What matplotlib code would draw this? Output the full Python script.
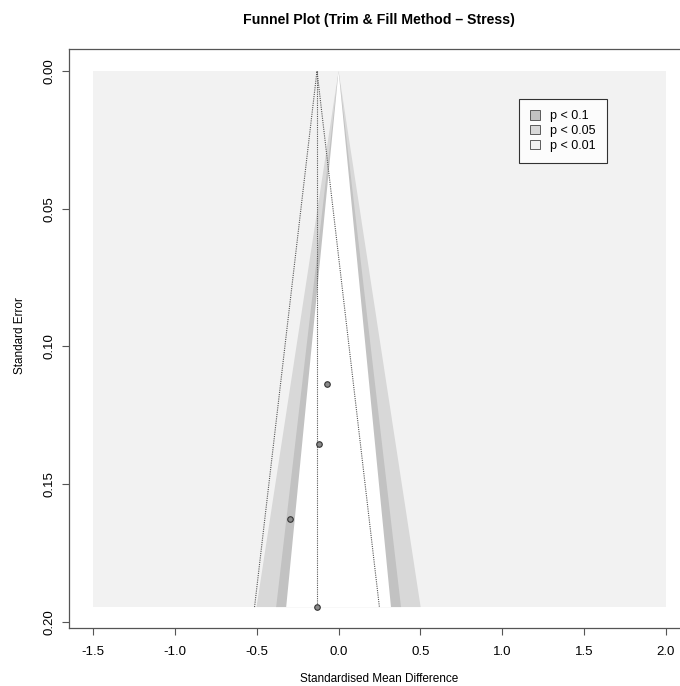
import numpy as np
import matplotlib
matplotlib.use('Agg')
from matplotlib import pyplot
from matplotlib.patches import Patch

pyplot.rcParams['font.family'] = ['Liberation Sans', 'DejaVu Sans']

# study effects (standardised mean difference) and standard errors
yi = [-0.071, -0.118, -0.295, -0.132]
sei = [0.1136, 0.1355, 0.1627, 0.1946]
# trim & fill pooled estimate
estimate = -0.132
# contour levels (two-sided z) and their legend labels / shades
z_levels = [1.645, 1.96, 2.576]
level_labels = ['p < 0.1', 'p < 0.05', 'p < 0.01']
level_colors = ['#c2c2c2', '#d8d8d8', '#f2f2f2']
x_ticks = [-1.5, -1.0, -0.5, 0.0, 0.5, 1.0, 1.5, 2.0]
y_ticks = [0.00, 0.05, 0.10, 0.15, 0.20]
x_range = (-1.5, 2.0)

fig = pyplot.figure(figsize=(6.8, 6.86), dpi=100)
ax = fig.add_axes([69 / 680, 58 / 686, 621 / 680, 579 / 686])

se_max = max(sei)
# background = p < 0.01 area
ax.fill([x_range[0], x_range[1], x_range[1], x_range[0]], [0, 0, se_max, se_max],
        color=level_colors[2], linewidth=0, zorder=1)
# contour bands, centred on 0
for z, col in [(z_levels[2], level_colors[1]), (z_levels[1], level_colors[0]), (z_levels[0], 'white')]:
  ax.fill([-z * se_max, 0, z * se_max], [se_max, 0, se_max], color=col, linewidth=0, zorder=2)

# pseudo confidence region around the estimate
ax.plot([estimate - 1.96 * se_max, estimate, estimate + 1.96 * se_max], [se_max, 0, se_max],
        linestyle=(0, (1, 1)), color='#555555', linewidth=0.8, zorder=3)
ax.plot([estimate, estimate], [0, se_max], linestyle=(0, (1, 1)), color='#555555', linewidth=0.8, zorder=3)

ax.plot(yi, sei, marker='o', linewidth=0.0, markersize=4, markerfacecolor='#8a8a8a',
        markeredgecolor='#333333', markeredgewidth=0.8, zorder=4)

ax.set_xlim(-1.647, 2.147)
ax.set_ylim(0.2022, -0.0080)
ax.set_xticks(x_ticks)
ax.set_xticklabels(['%.1f' % v for v in x_ticks])
ax.set_yticks(y_ticks)
ax.set_yticklabels(['%.2f' % v for v in y_ticks], rotation=90, va='center')
ax.tick_params(axis='both', direction='out', length=5, width=0.8, color='#555555', labelsize=9.5)
ax.tick_params(axis='y', pad=5)
ax.tick_params(axis='x', pad=8)
for s in ax.spines.values():
  s.set_color('#555555')
  s.set_linewidth(0.9)

handles = [Patch(facecolor=c, edgecolor='#444444', linewidth=0.6) for c in level_colors]
leg = ax.legend(handles, level_labels, loc='upper left', bbox_to_anchor=(519 / 680, 1 - 99 / 686),
                bbox_transform=fig.transFigure, fontsize=9, frameon=True, fancybox=False,
                edgecolor='black', handlelength=0.8, handleheight=0.8, handletextpad=0.8,
                labelspacing=0.2, borderpad=0.9, borderaxespad=0)
leg.get_frame().set_linewidth(0.8)

fig.text(379 / 680, 1 - 20 / 686, 'Funnel Plot (Trim & Fill Method \u2013 Stress)', ha='center', va='center',
         fontsize=10.2, fontweight='bold')
fig.text(379 / 680, 1 - 679 / 686, 'Standardised Mean Difference', ha='center', va='center', fontsize=8.5)
fig.text(20 / 680, 1 - 336 / 686, 'Standard Error', ha='center', va='center', rotation=90, fontsize=8.5)

pyplot.savefig('out.png', dpi=100)
pyplot.close()
